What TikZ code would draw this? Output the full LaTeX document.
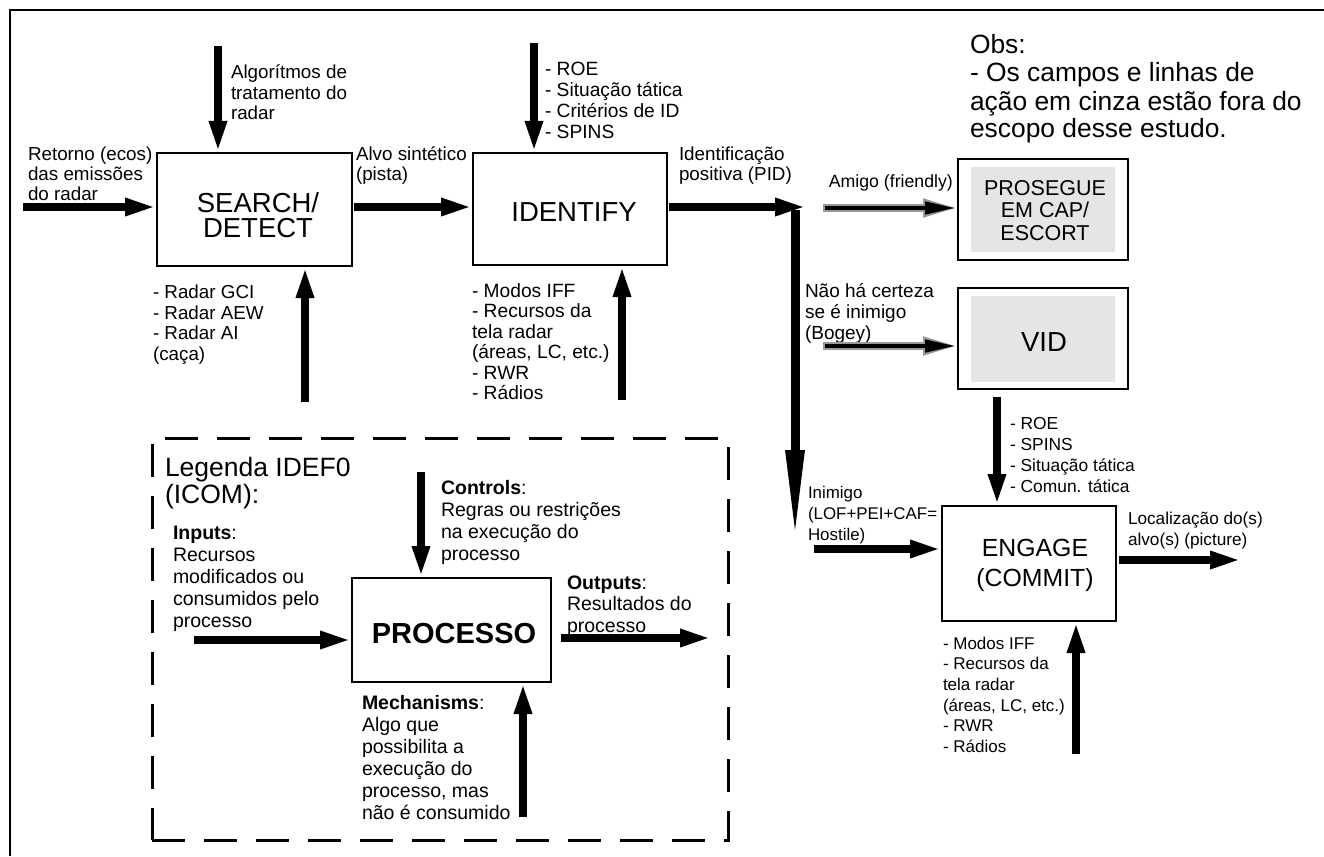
\documentclass[tikz,border=0pt]{standalone}
\usepackage{fontspec}
\setmainfont{Liberation Sans}
\usetikzlibrary{arrows.meta}
% first-line strut: the top of every label sits exactly 1em above its first baseline
\newcommand\topstrut{\rule{0pt}{1em}}
\newcommand\setfs[2]{\fontsize{#1}{#2}\selectfont\lineskiplimit=-100pt\relax}
\begin{document}
\begin{tikzpicture}[x=1pt,y=-1pt,
  procbox/.style={draw, line width=1.4pt, inner sep=0pt, outer sep=0pt},
  innerfill/.style={fill=black!10, draw=none, inner sep=0pt, outer sep=0pt},
  legendbox/.style={draw, line width=3pt, dash pattern=on 33pt off 19pt, inner sep=0pt, outer sep=0pt},
  lbl/.style={anchor=north west, inner sep=0pt, outer sep=0pt, align=left},
  boxtxt/.style={anchor=north, inner sep=0pt, outer sep=0pt, align=center},
  flow/.style={line width=8.5pt, -{Triangle[length=32pt,width=16pt]}},
  longflow/.style={line width=9pt, -{Triangle[length=93pt,width=17pt]}},
  greyhalo/.style={line width=7.5pt, draw=black!40, -{Triangle[length=35pt,width=17pt]}},
  greycore/.style={line width=4.5pt, shorten >=2pt, shorten <=1.5pt, -{Triangle[length=31pt,width=12pt]}}
]
\useasboundingbox (0,0) rectangle (1324,856);

% outer frame (only its left and top edges lie inside the page)
\draw[line width=2pt] (10,856) -- (10,10) -- (1324,10);

% ---------------- process boxes ----------------
\node[procbox, minimum width=195pt, minimum height=113pt] (search) at (254.5,209.5) {};
\node[procbox, minimum width=194pt, minimum height=112pt] (ident) at (570,209) {};
\node[procbox, minimum width=170pt, minimum height=101pt] (pros) at (1043,209.5) {};
\node[innerfill, minimum width=144pt, minimum height=85pt] (prosin) at (1043,209.5) {};
\node[procbox, minimum width=170pt, minimum height=101pt] (vid) at (1043,338.5) {};
\node[innerfill, minimum width=144pt, minimum height=86pt] (vidin) at (1043,339) {};
\node[procbox, minimum width=174pt, minimum height=115pt] (engage) at (1029,563.5) {};
\node[legendbox, minimum width=576pt, minimum height=402pt] (legend) at (440,639) {};
\node[procbox, minimum width=199pt, minimum height=104pt] (proc) at (451.5,630) {};

% box titles
\node[boxtxt, font=\setfs{27.5}{24.5}] (searchT) at (258,185.2) {\topstrut SEARCH/\\DETECT};
\node[boxtxt, font=\setfs{27.5}{24}] (identT) at (574,194) {\topstrut IDENTIFY};
\node[boxtxt, font=\setfs{21.5}{22.5}] (prosT) at (1045,173.9) {\topstrut PROSEGUE\\EM CAP/\\ESCORT};
\node[boxtxt, font=\setfs{27.5}{24}] (vidT) at (1044,323.9) {\topstrut VID};
\node[boxtxt, font=\setfs{24.8}{29.3}] (engageT) at (1035,531.9) {\topstrut ENGAGE\\(COMMIT)};
\node[boxtxt, font=\setfs{29}{30}\bfseries] (procT) at (454,614) {\topstrut PROCESSO};

% ---------------- labels ----------------
\node[lbl, font=\setfs{18.8}{20}] (retorno) at (28,141.7)
  {\topstrut Retorno (ecos)\\das emissões\\do radar};
\node[lbl, font=\setfs{18.8}{20.7}] (algor) at (231,59.7)
  {\topstrut Algorítmos de\\tratamento do\\radar};
\node[lbl, font=\setfs{18.8}{20}] (alvo) at (356,141.7)
  {\topstrut Alvo sintético\\(pista)};
\node[lbl, font=\setfs{18.8}{20.5}] (radares) at (153,279.7)
  {\topstrut - Radar GCI\\- Radar AEW\\- Radar AI\\(caça)};
\node[lbl, font=\setfs{19.2}{21}] (roeA) at (545,56.3)
  {\topstrut - ROE\\- Situação tática\\- Critérios de ID\\- SPINS};
\node[lbl, font=\setfs{19.2}{20.5}] (modosA) at (472,277.8)
  {\topstrut - Modos IFF\\- Recursos da\\tela radar\\(áreas, LC, etc.)\\- RWR\\- Rádios};
\node[lbl, font=\setfs{18.8}{20}] (pid) at (679,141.2)
  {\topstrut Identificação\\positiva (PID)};
\node[lbl, font=\setfs{26.4}{28}] (obs) at (970,27.6)
  {\topstrut Obs:\\- Os campos e linhas de\\ação em cinza estão fora do\\escopo desse estudo.};
\node[anchor=base east, inner sep=0pt, font=\setfs{17.7}{20}] (amigo) at (953,187)
  {Amigo (friendly)};
\node[lbl, font=\setfs{19}{21}] (bogey) at (805,278)
  {\topstrut Não há certeza\\se é inimigo\\(Bogey)};
\node[lbl, font=\setfs{17.4}{21}] (roeC) at (1010,412.1)
  {\topstrut - ROE\\- SPINS\\- Situação tática\\- Comun. tática};
\node[lbl, font=\setfs{16.9}{20.8}] (inimigo) at (808,481.5)
  {\topstrut Inimigo\\(LOF+PEI+CAF=\\Hostile)};
\node[lbl, font=\setfs{17.2}{21}] (local) at (1128,507)
  {\topstrut Localização do(s)\\alvo(s) (picture)};
\node[lbl, font=\setfs{17}{20.7}] (modosC) at (943,632)
  {\topstrut - Modos IFF\\- Recursos da\\tela radar\\(áreas, LC, etc.)\\- RWR\\- Rádios};

% legend texts
\node[lbl, font=\setfs{26.5}{27}] (legT) at (165,449.5)
  {\topstrut Legenda IDEF0\\(ICOM):};
\node[lbl, font=\setfs{19.5}{22}] (inputs) at (173,519.5)
  {\topstrut\textbf{Inputs}:\\Recursos\\modificados ou\\consumidos pelo\\processo};
\node[lbl, font=\setfs{19.5}{22}] (controls) at (441,474.5)
  {\topstrut\textbf{Controls}:\\Regras ou restrições\\na execução do\\processo};
\node[lbl, font=\setfs{19.5}{21.5}] (outputs) at (567,569.5)
  {\topstrut\textbf{Outputs}:\\Resultados do\\processo};
\node[lbl, font=\setfs{19.5}{22}] (mechs) at (362,689.5)
  {\topstrut\textbf{Mechanisms}:\\Algo que\\possibilita a\\execução do\\processo, mas\\não é consumido};

% ---------------- connector end points ----------------
\coordinate (inA) at (23,207);
\coordinate (ctA) at (218,46);
\coordinate (mA) at (305,402);
\coordinate (outA) at (354,207);
\coordinate (ctB) at (534,43);
\coordinate (mB) at (622,400);
\coordinate (outB) at (669,207);
\coordinate (outBend) at (807,207);
\coordinate (split) at (795,210);
\coordinate (splitEnd) at (795,543);
\coordinate (gA) at (823,208);
\coordinate (gB) at (823,346);
\coordinate (vidOut) at (997,397);
\coordinate (inC) at (814,549);
\coordinate (outC) at (1119,560);
\coordinate (outCend) at (1242,560);
\coordinate (mC) at (1076,754);
\coordinate (ctP) at (421,472);
\coordinate (inP) at (194,640);
\coordinate (outP) at (561,638);
\coordinate (outPend) at (712,638);
\coordinate (mP) at (523,817);

% ---------------- connectors ----------------
\draw[flow] (inA) -- (inA -| search.west);
\draw[flow] (ctA) -- (ctA |- search.north);
\draw[flow] (mA) -- (mA |- search.south);
\draw[flow] (outA) -- (outA -| ident.west);
\draw[flow] (ctB) -- (ctB |- ident.north);
\draw[flow] (mB) -- (mB |- ident.south);
\draw[flow] (outB) -- (outBend);
\draw[longflow] (split) -- (splitEnd);

% grey (out of scope) lines of action
\draw[greyhalo] (gA) -- (gA -| pros.west);
\draw[greycore] (gA) -- (gA -| pros.west);
\draw[greyhalo] (gB) -- (gB -| vid.west);
\draw[greycore] (gB) -- (gB -| vid.west);

\draw[flow] (vidOut) -- (vidOut |- engage.north);
\draw[flow] (inC) -- (inC -| engage.west);
\draw[flow] (outC) -- (outCend);
\draw[flow] (mC) -- (mC |- engage.south);

% legend (ICOM) arrows
\draw[flow] (ctP) -- (ctP |- proc.north);
\draw[flow] (inP) -- (inP -| proc.west);
\draw[flow] (outP) -- (outPend);
\draw[flow] (mP) -- (mP |- proc.south);
\end{tikzpicture}
\end{document}
